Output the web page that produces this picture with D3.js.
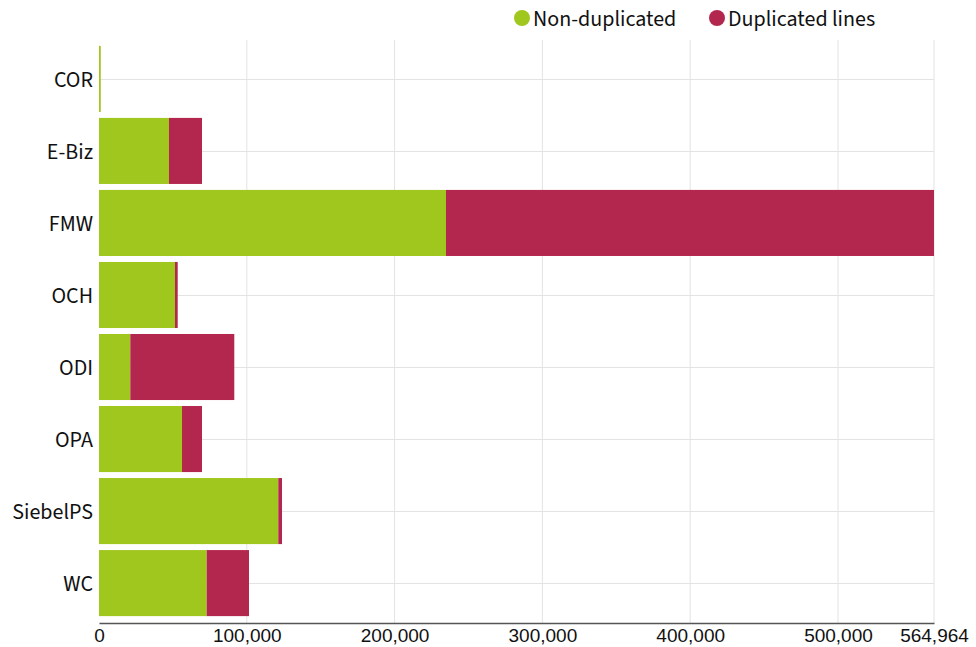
<!DOCTYPE html>
<html><head><meta charset="utf-8">
<script src="https://cdn.jsdelivr.net/npm/d3@7"></script>
<style>body{margin:0;background:#fff}svg{display:block;font-family:"Source Sans Pro","Source Sans 3",Lato,"Noto Sans",sans-serif}</style>
</head><body><svg id="c" width="976" height="647"></svg>
<script>
const categories = ["COR","E-Biz","FMW","OCH","ODI","OPA","SiebelPS","WC"];
const nonDuplicated = [1200, 47360, 234780, 51420, 21180, 56160, 121310, 72870];
const duplicated = [0, 22330, 330184, 1830, 70360, 13530, 2510, 28620];
const seriesNames = ["Non-duplicated","Duplicated lines"];
const colors = ["#a0c71e","#b3274e"];
const xMax = 564964;
const tickValues = [0,100000,200000,300000,400000,500000,564964];

const svg = d3.select("#c");
const x = d3.scaleLinear().domain([0,xMax]).range([99,934]);
const y = d3.scaleBand().domain(categories).range([43,619]).paddingInner(0.083).paddingOuter(0.04);
const fmt = d3.format(",");

// grid
svg.append("g").selectAll("line").data(tickValues.slice(1)).join("line")
  .attr("x1",d=>x(d)).attr("x2",d=>x(d)).attr("y1",40).attr("y2",623)
  .attr("stroke","#e3e3e3").attr("stroke-width",1);
svg.append("g").selectAll("line").data(categories).join("line")
  .attr("x1",99).attr("x2",934).attr("y1",d=>Math.round(y(d)+y.bandwidth()/2)+0.5).attr("y2",d=>Math.round(y(d)+y.bandwidth()/2)+0.5)
  .attr("stroke","#e3e3e3").attr("stroke-width",1);

const data = categories.map((c,i)=>({cat:c, a:nonDuplicated[i], b:duplicated[i]}));
const stack = d3.stack().keys(["a","b"])(data);
svg.append("g").selectAll("g").data(stack).join("g").attr("fill",(d,i)=>colors[i])
  .selectAll("rect").data(d=>d).join("rect")
  .attr("x",d=>x(d[0])).attr("width",d=>Math.max(0,x(d[1])-x(d[0])))
  .attr("y",d=>y(d.data.cat)).attr("height",y.bandwidth());

// y labels
svg.append("g").selectAll("text").data(categories).join("text")
  .attr("x",93).attr("y",d=>y(d)+y.bandwidth()/2).attr("dy","0.35em")
  .attr("text-anchor","end").attr("font-size",22).attr("fill","#111").text(d=>d);

// x axis
const ax = svg.append("g").attr("transform","translate(0,623)")
  .call(d3.axisBottom(x).tickValues(tickValues).tickFormat(fmt).tickSize(0).tickPadding(6));
ax.select(".domain").attr("stroke","#555").attr("stroke-width",1.5);
ax.selectAll("text").attr("font-size",19).attr("fill","#111").attr("font-family",null);

// legend
const leg = [{n:seriesNames[0],c:colors[0],x:522},{n:seriesNames[1],c:colors[1],x:717}];
const lg = svg.append("g");
lg.selectAll("circle").data(leg).join("circle").attr("cx",d=>d.x).attr("cy",18).attr("r",8).attr("fill",d=>d.c);
lg.selectAll("text").data(leg).join("text").attr("x",d=>d.x+11).attr("y",18).attr("dy","0.35em")
  .attr("font-size",22).attr("fill","#111").text(d=>d.n);
</script></body></html>
